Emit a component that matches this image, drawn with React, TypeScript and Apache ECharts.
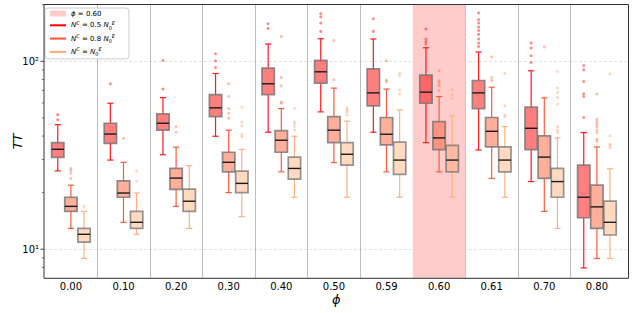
import React, { useEffect, useRef } from 'react';
import * as echarts from 'echarts';

const categories = ['0.00', '0.10', '0.20', '0.30', '0.40', '0.50', '0.59', '0.60', '0.61', '0.70', '0.80'];
const highlightCategory = '0.60';
const shadeName = 'ϕ = 0.60';
const seriesNames = ['N^C = 0.5 N_0^E', 'N^C = 0.8 N_0^E', 'N^C = N_0^E'];

const Y_MIN = 7.0;
const Y_MAX = 200.5;
const yMajorTicks = [10, 100];
const yMinorTicks = [8, 9, 20, 30, 40, 50, 60, 70, 80, 90, 200];

// [lower whisker, q1, median, q3, upper whisker]
const boxesHalf = [
  [26.1, 30.8, 34.0, 36.9, 46.0],
  [29.8, 36.6, 41.0, 46.8, 59.8],
  [31.8, 43.0, 46.8, 52.5, 64.1],
  [39.9, 50.8, 56.5, 66.5, 86.1],
  [41.9, 66.5, 75.9, 92.0, 123.5],
  [53.8, 76.5, 87.9, 101, 131.8],
  [41.9, 57.9, 67.9, 91.2, 131.4],
  [36.9, 59.8, 68.5, 84.4, 118],
  [33.7, 56.0, 67.9, 79.0, 112],
  [22.9, 33.9, 44.0, 57.0, 89.0],
  [7.95, 14.7, 18.9, 28.0, 41.7],
];
const boxesEight = [
  [12.9, 15.9, 16.9, 18.9, 21.9],
  [13.9, 18.9, 19.9, 23.1, 29.0],
  [16.9, 20.8, 23.9, 26.9, 34.9],
  [20.0, 25.8, 29.0, 32.8, 43.0],
  [25.8, 32.8, 38.0, 42.7, 56.0],
  [28.9, 36.9, 43.0, 50.8, 72.0],
  [25.8, 35.9, 40.9, 50.2, 71.1],
  [25.8, 33.9, 39.1, 47.7, 64.9],
  [23.8, 35.0, 42.4, 50.2, 72.8],
  [15.9, 23.8, 30.9, 40.1, 63.9],
  [8.92, 12.9, 16.8, 21.9, 35.0],
];
const boxesFull = [
  [8.92, 10.9, 12.0, 12.9, 15.9],
  [12.0, 12.9, 13.9, 15.9, 19.9],
  [12.9, 15.9, 18.0, 20.9, 27.8],
  [14.9, 20.0, 22.4, 26.0, 34.0],
  [18.9, 23.6, 26.9, 30.9, 39.9],
  [18.9, 28.0, 32.0, 36.9, 48.0],
  [18.9, 25.0, 29.8, 37.1, 55.1],
  [18.9, 25.8, 29.8, 35.7, 51.2],
  [18.9, 25.8, 29.8, 35.0, 44.9],
  [12.9, 18.9, 22.9, 26.9, 39.1],
  [8.92, 11.9, 13.9, 18.0, 26.8],
];

const outliersHalf = [
  [48.9, 52.0],
  [75.9],
  [71.1, 101],
  [92.7, 100.6, 109.6],
  [149.6, 158.5],
  [144.2, 159.9, 172.1, 179.2],
  [144.2, 168.5],
  [123.5, 127.5, 131.4, 148.5],
  [119.9, 125, 131.4, 139, 145.9, 152.2, 159.9, 166.5, 180.8],
  [98.5, 107, 117.6, 125],
  [50.2, 64.9, 67.1, 78.0, 90.1, 95.0],
];
const outliersEight = [
  [23.8, 25.3, 26.2, 26.9],
  [38.9],
  [41.9, 44.9],
  [49.8, 52.9, 56.0, 64.9, 75.9],
  [59.8, 60.6, 74.0, 82.0, 135.6],
  [79.7, 129.1],
  [77.7, 79.4, 100.6],
  [69.9, 74.0, 76.5, 78.7, 89.0],
  [79.0, 82.0, 105.3],
  [119],
  [37.4, 38.5, 41.6, 43.1, 44.9, 46.2, 47.7, 49.2, 66.9],
];
const outliersFull = [
  [16.9],
  [23.0, 26.1],
  [],
  [39.7, 40.9, 45.3, 47.4, 57.0],
  [43.1, 44.9, 46.4, 47.7, 56.0],
  [51.8, 53.8, 55.1, 56.5],
  [66.9, 70.5, 83.7, 86.5],
  [63.7, 66.3, 70.5],
  [50.8, 51.8, 57.9, 86.1],
  [41.7, 43.1, 44.9, 59.1, 64.1, 68.2, 72.0, 88.2],
  [34.7, 35.6, 36.3, 40.1, 85.8],
];

const BOX_OFFSETS = [-0.25, 0, 0.25];
const BOX_WIDTH = 0.235;
const CAP_RATIO = 0.5;

const styles = [
  { fill: 'rgba(255,0,0,0.5)', edge: 'rgba(115,115,115,0.8)', whisker: '#ff1a1a', flier: 'rgba(255,0,0,0.45)', legend: '#ff0000' },
  { fill: 'rgba(255,85,45,0.48)', edge: 'rgba(115,115,115,0.8)', whisker: '#ff5a3a', flier: 'rgba(255,90,50,0.4)', legend: '#ff5533' },
  { fill: 'rgba(255,165,105,0.42)', edge: 'rgba(115,115,115,0.75)', whisker: '#ffb080', flier: 'rgba(255,150,90,0.38)', legend: '#ffa877' },
];

const FONT = 'DejaVu Sans';
const SUP: Record<number, string> = { 0: '⁰', 1: '¹', 2: '²', 3: '³' };
const LINE_ICON = 'path://M0,0H16V2H0Z';

export default function App() {
  const ref = useRef<HTMLDivElement>(null);
  useEffect(() => {
    const chart = echarts.init(ref.current!, null, { renderer: 'svg' });
    const bandIdx = categories.indexOf(highlightCategory);

    const boxSeries = [boxesHalf, boxesEight, boxesFull].map((boxes, s) => ({
      type: 'custom',
      name: seriesNames[s],
      xAxisIndex: 1,
      yAxisIndex: 1,
      z: 3,
      silent: true,
      data: boxes.map((b, i) => [i, ...b]),
      encode: { x: 0, y: [1, 2, 3, 4, 5] },
      renderItem: (params: any, api: any) => {
        const idx = api.value(0);
        const band = api.size([1, 0])[0];
        const cx = api.coord([idx, api.value(3)])[0] + BOX_OFFSETS[s] * band;
        const py = (d: number) => api.coord([idx, api.value(d)])[1];
        const yLo = py(1), yQ1 = py(2), yMed = py(3), yQ3 = py(4), yHi = py(5);
        const hw = (BOX_WIDTH * band) / 2;
        const cap = hw * CAP_RATIO;
        const st = styles[s];
        const wl = { stroke: st.whisker, lineWidth: 1.2 };
        return {
          type: 'group',
          children: [
            { type: 'line', shape: { x1: cx, y1: yQ1, x2: cx, y2: yLo }, style: wl },
            { type: 'line', shape: { x1: cx, y1: yQ3, x2: cx, y2: yHi }, style: wl },
            { type: 'line', shape: { x1: cx - cap, y1: yLo, x2: cx + cap, y2: yLo }, style: wl },
            { type: 'line', shape: { x1: cx - cap, y1: yHi, x2: cx + cap, y2: yHi }, style: wl },
            {
              type: 'rect',
              shape: { x: cx - hw, y: yQ3, width: 2 * hw, height: yQ1 - yQ3 },
              style: { fill: st.fill, stroke: st.edge, lineWidth: 1.7 },
            },
            {
              type: 'line',
              shape: { x1: cx - hw, y1: yMed, x2: cx + hw, y2: yMed },
              style: { stroke: '#1a1a1a', lineWidth: 1.4 },
            },
          ],
        };
      },
    }));

    const outlierSeries = [outliersHalf, outliersEight, outliersFull].map((outs, s) => ({
      type: 'custom',
      xAxisIndex: 1,
      yAxisIndex: 1,
      z: 2,
      silent: true,
      data: outs.flatMap((vals, i) => vals.map((v) => [i, v])),
      encode: { x: 0, y: 1 },
      renderItem: (params: any, api: any) => {
        const band = api.size([1, 0])[0];
        const p = api.coord([api.value(0), api.value(1)]);
        return {
          type: 'circle',
          shape: { cx: p[0] + BOX_OFFSETS[s] * band, cy: p[1], r: 1.5 },
          style: { fill: styles[s].flier },
        };
      },
    }));

    const legendRich = {
      t: { fontSize: 7, fontFamily: FONT, color: '#000', lineHeight: 10 },
      i: { fontSize: 7, fontFamily: FONT, fontStyle: 'italic', color: '#000', lineHeight: 10 },
      sup: { fontSize: 5, fontFamily: FONT, fontStyle: 'italic', color: '#000', lineHeight: 6, verticalAlign: 'top' },
      sub: { fontSize: 5, fontFamily: FONT, color: '#000', lineHeight: 6, verticalAlign: 'bottom' },
    };
    const legendFormatter = (name: string) => {
      if (name === shadeName) return '{i|ϕ}{t| = 0.60}';
      if (name === seriesNames[0]) return '{i|N}{sup|C}{t| = 0.5 }{i|N}{sub|0}{sup|E}';
      if (name === seriesNames[1]) return '{i|N}{sup|C}{t| = 0.8 }{i|N}{sub|0}{sup|E}';
      return '{i|N}{sup|C}{t| = }{i|N}{sub|0}{sup|E}';
    };

    const option: any = {
      animation: false,
      backgroundColor: '#ffffff',
      grid: [
        { left: 44, right: 5.5, top: 4.5, bottom: 34.7, containLabel: false, outerBoundsMode: 'none' },
        { left: 44.6, right: 10.8, top: 4.5, bottom: 34.7, containLabel: false, outerBoundsMode: 'none' },
      ],
      legend: {
        orient: 'vertical',
        left: 45,
        top: 8,
        padding: [2, 14, 2, 5],
        itemGap: 3.3,
        itemWidth: 16,
        itemHeight: 6,
        backgroundColor: 'rgba(255,255,255,0.85)',
        borderColor: '#cccccc',
        borderWidth: 1,
        borderRadius: 3,
        selectedMode: false,
        data: [
          { name: shadeName, icon: 'rect', itemStyle: { color: '#ffcccc', borderWidth: 0 } },
          ...seriesNames.map((n, s) => ({ name: n, icon: LINE_ICON, itemStyle: { color: styles[s].legend, borderWidth: 0 } })),
        ],
        formatter: legendFormatter,
        textStyle: { fontSize: 7, fontFamily: FONT, color: '#000', rich: legendRich },
      },
      xAxis: [
        {
          gridIndex: 0,
          type: 'value',
          min: 0,
          max: 1,
          axisLine: { show: false },
          axisTick: { show: false },
          axisLabel: { show: false },
          splitLine: { show: false },
          name: 'ϕ',
          nameLocation: 'middle',
          nameGap: 15,
          nameMoveOverlap: false,
          nameTextStyle: { fontFamily: FONT, fontStyle: 'italic', fontSize: 13, color: '#000' },
        },
        {
          gridIndex: 1,
          type: 'category',
          data: categories,
          boundaryGap: true,
          axisLine: { show: false },
          axisTick: { show: false },
          axisLabel: { color: '#000', fontSize: 10, fontFamily: FONT, margin: 3, interval: 0 },
          splitLine: { show: true, showMinLine: false, showMaxLine: false, lineStyle: { color: '#bdbdbd', width: 1 } },
        },
      ],
      yAxis: [
        {
          gridIndex: 0,
          type: 'log',
          logBase: 10,
          min: Y_MIN,
          max: Y_MAX,
          axisLine: { show: false },
          axisTick: { show: false },
          axisLabel: {
            showMinLabel: false,
            showMaxLabel: false,
            color: '#000',
            fontSize: 10,
            fontFamily: FONT,
            margin: 5,
            formatter: (v: number) => {
              const e = Math.log10(v);
              const r = Math.round(e);
              return Math.abs(e - r) < 1e-6 ? '10' + (SUP[r] ?? '') : '';
            },
          },
          splitLine: { show: true, showMinLine: false, showMaxLine: false, lineStyle: { color: '#dcdcdc', type: [3, 2], width: 0.8 } },
          name: 'TT',
          nameLocation: 'middle',
          nameGap: 20,
          nameMoveOverlap: false,
          nameRotate: 90,
          nameTextStyle: { fontFamily: FONT, fontStyle: 'italic', fontSize: 13, color: '#000' },
        },
        { gridIndex: 1, type: 'log', logBase: 10, min: Y_MIN, max: Y_MAX, show: false },
      ],
      series: [
        {
          type: 'custom',
          name: shadeName,
          xAxisIndex: 1,
          yAxisIndex: 1,
          z: 1,
          silent: true,
          data: [[bandIdx, Y_MIN, Y_MAX]],
          encode: { x: 0, y: [1, 2] },
          renderItem: (params: any, api: any) => {
            const idx = api.value(0);
            const band = api.size([1, 0])[0];
            const top = api.coord([idx, api.value(2)]);
            const bot = api.coord([idx, api.value(1)]);
            return {
              type: 'rect',
              shape: { x: top[0] - band / 2, y: top[1], width: band, height: bot[1] - top[1] },
              style: { fill: '#ffcccc' },
            };
          },
        },
        ...outlierSeries,
        ...boxSeries,
        {
          type: 'custom',
          xAxisIndex: 0,
          yAxisIndex: 0,
          z: 10,
          silent: true,
          data: [[0, Y_MIN, 1, Y_MAX]],
          encode: { x: [0, 2], y: [1, 3] },
          renderItem: (params: any, api: any) => {
            const a = api.coord([api.value(0), api.value(3)]);
            const b = api.coord([api.value(2), api.value(1)]);
            return {
              type: 'rect',
              shape: { x: a[0], y: a[1], width: b[0] - a[0], height: b[1] - a[1] },
              style: { fill: 'none', stroke: '#333333', lineWidth: 1 },
            };
          },
        },
        {
          type: 'custom',
          xAxisIndex: 0,
          yAxisIndex: 0,
          z: 10,
          silent: true,
          data: [...yMajorTicks.map((v) => [0, v, 1]), ...yMinorTicks.map((v) => [0, v, 0])],
          encode: { x: 0, y: 1 },
          renderItem: (params: any, api: any) => {
            const p = api.coord([api.value(0), api.value(1)]);
            const major = api.value(2) === 1;
            const len = major ? 3.5 : 2;
            return {
              type: 'line',
              shape: { x1: p[0] - len, y1: p[1], x2: p[0], y2: p[1] },
              style: { stroke: '#333333', lineWidth: major ? 0.9 : 0.7 },
            };
          },
        },
      ],
    };
    chart.setOption(option);
    return () => chart.dispose();
  }, []);
  return <div ref={ref} style={{ position: 'fixed', left: 0, top: 0, width: 634, height: 313 }} />;
}
